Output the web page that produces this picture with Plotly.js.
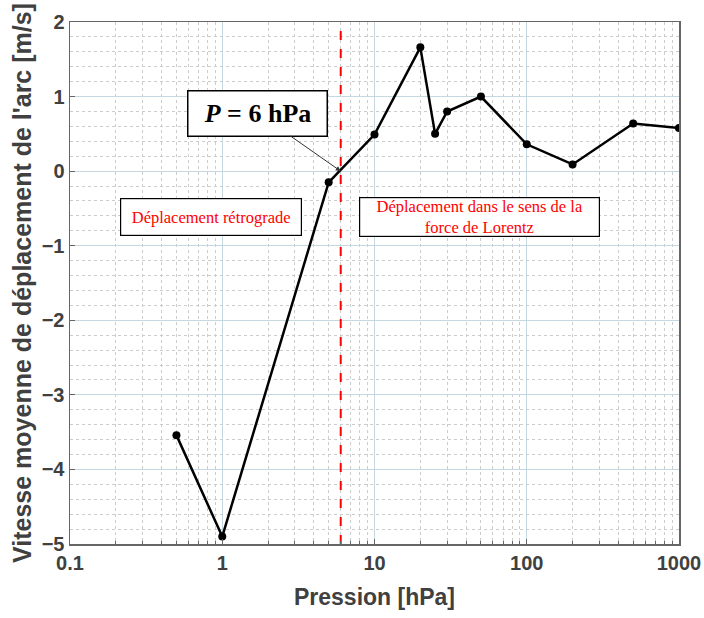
<!DOCTYPE html>
<html><head><meta charset="utf-8">
<script src="https://cdn.plot.ly/plotly-3.0.1.min.js"></script>
<style>body{margin:0;background:#fff}#chart{width:704px;height:618px}</style>
</head><body><div id="chart"></div>
<script>
const pressure = [0.5, 1, 5, 10, 20, 25, 30, 50, 100, 200, 500, 1000];
const speed = [-3.54, -4.9, -0.15, 0.49, 1.66, 0.5, 0.8, 1.0, 0.36, 0.09, 0.64, 0.58];
const thresholdP = 6;
const yRange = [-5, 2];
const xTickVals = [0.1, 1, 10, 100, 1000];
const xTickText = ['0.1', '1', '10', '100', '1000'];
const yTickVals = [-5, -4, -3, -2, -1, 0, 1, 2];

const minorX = [];
[0.1, 1, 10, 100].forEach(d => { for (let k = 2; k <= 9; k++) minorX.push(d * k); });
const minorY = [];
for (let v = yRange[0]; v <= yRange[1] + 1e-9; v += 0.2) minorY.push(Math.round(v * 10) / 10);

const traces = [
  {x: [thresholdP, thresholdP], y: yRange, mode: 'lines', line: {color: '#ff0000', width: 2, dash: 'dash'}, hoverinfo: 'skip', showlegend: false},
  {x: pressure, y: speed, mode: 'lines+markers', line: {color: '#000', width: 2.5}, marker: {color: '#000', size: 8}, showlegend: false}
];

const layout = {
  width: 704, height: 618,
  margin: {l: 70, r: 25, t: 22, b: 74},
  paper_bgcolor: '#fff', plot_bgcolor: '#fff',
  font: {family: 'Arial, Liberation Sans, sans-serif'},
  xaxis: {
    type: 'log', range: [-1, 3],
    tickvals: xTickVals, ticktext: xTickText,
    tickfont: {family: 'Arial', size: 20, color: '#404040', weight: 'bold'},
    showgrid: true, gridcolor: '#c5d8e2', gridwidth: 1,
    showline: true, linecolor: '#666', linewidth: 1.5, mirror: true,
    ticks: 'inside', ticklen: 5, tickcolor: '#666',
    minor: {tickvals: minorX, showgrid: true, gridcolor: '#cccccc', griddash: 'dot', gridwidth: 1, ticks: 'inside', ticklen: 3, tickcolor: '#666'},
    zeroline: false,
    title: {text: '<b>Pression [hPa]</b>', font: {family: 'Arial', size: 23, color: '#404040'}, standoff: 16}
  },
  yaxis: {
    range: yRange,
    tickvals: yTickVals,
    tickfont: {family: 'Arial', size: 20, color: '#404040', weight: 'bold'},
    showgrid: true, gridcolor: '#c5d8e2', gridwidth: 1,
    showline: true, linecolor: '#666', linewidth: 1.5, mirror: true,
    ticks: 'inside', ticklen: 5, tickcolor: '#666',
    minor: {tickvals: minorY, showgrid: true, gridcolor: '#cccccc', griddash: 'dot', gridwidth: 1},
    zeroline: false,
    title: {text: "<b>Vitesse moyenne de déplacement de l'arc [m/s]</b>", font: {family: 'Arial', size: 25, color: '#404040'}, standoff: 3}
  },
  annotations: [
    {x: Math.log10(thresholdP), y: 0, xref: 'x', yref: 'y', ax: -83, ay: -58,
     text: '<b><i>P</i> = 6 hPa</b>', showarrow: true, arrowhead: 2, arrowsize: 1, arrowwidth: 1, arrowcolor: '#333',
     font: {family: 'Liberation Serif, Times New Roman, serif', size: 26, color: '#000'},
     bgcolor: '#fff', bordercolor: '#000', borderwidth: 1.5, width: 136, height: 42},
    {x: 0.2315, y: 0.626, xref: 'paper', yref: 'paper', xanchor: 'center', yanchor: 'middle', showarrow: false,
     text: 'Déplacement rétrograde',
     font: {family: 'Liberation Serif, Times New Roman, serif', size: 16.5, color: '#ff0000'},
     bgcolor: '#fff', bordercolor: '#000', borderwidth: 1.2, width: 178, height: 34},
    {x: 0.672, y: 0.626, xref: 'paper', yref: 'paper', xanchor: 'center', yanchor: 'middle', showarrow: false,
     text: 'Déplacement dans le sens de la<br>force de Lorentz',
     font: {family: 'Liberation Serif, Times New Roman, serif', size: 16.5, color: '#ff0000'},
     bgcolor: '#fff', bordercolor: '#000', borderwidth: 1.2, width: 237, height: 36}
  ]
};
Plotly.newPlot('chart', traces, layout, {displayModeBar: false, staticPlot: true});
</script>
</body></html>
